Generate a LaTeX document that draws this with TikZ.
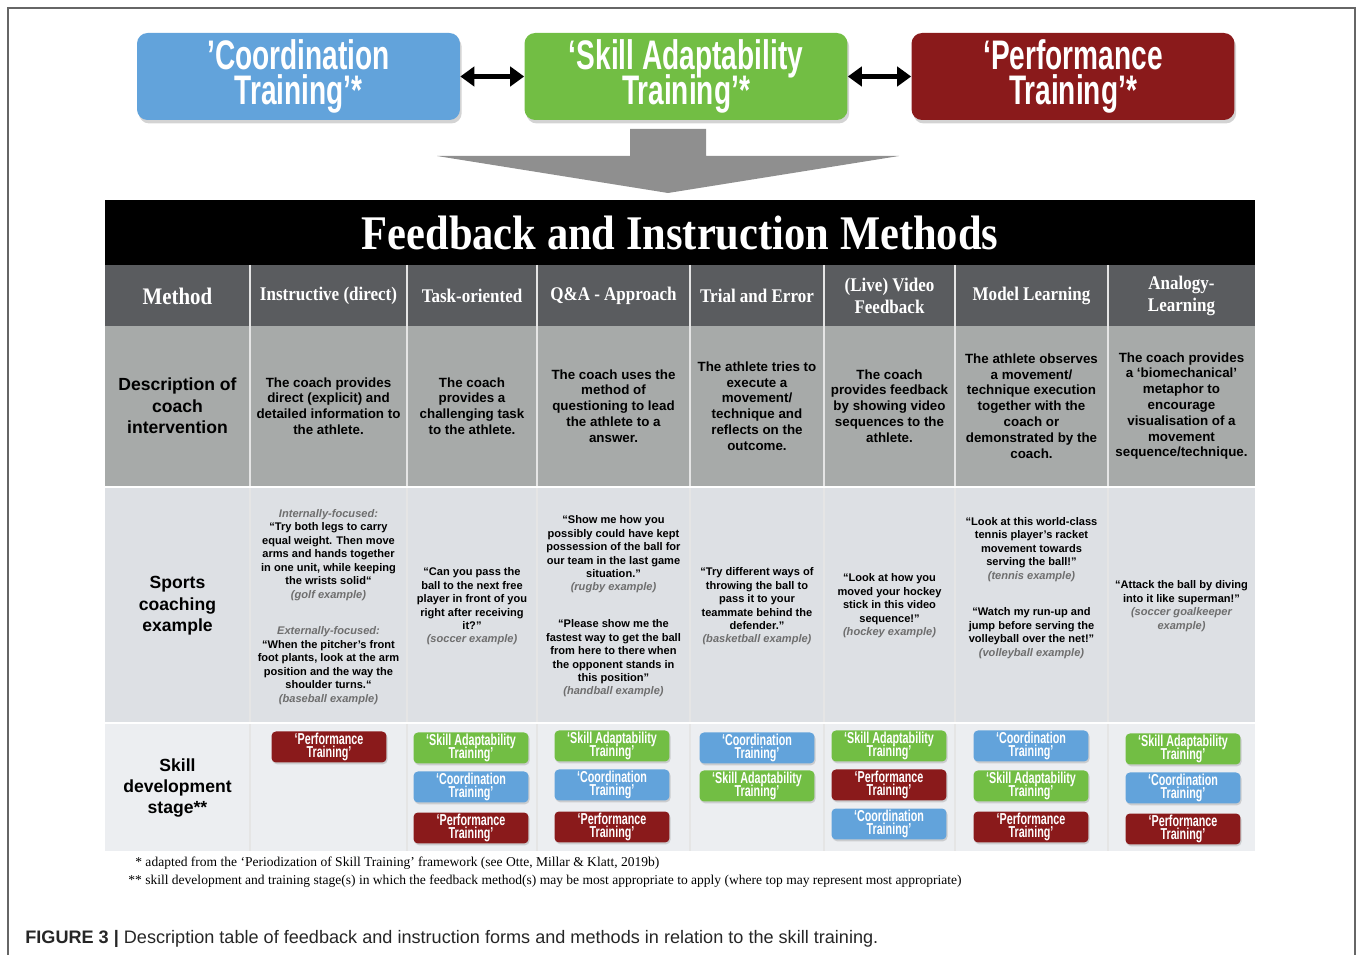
\documentclass[tikz,border=0pt]{standalone}
\usepackage{fontspec}
\setmainfont{Liberation Sans}
\newfontfamily\headfont[FakeStretch=0.88]{Liberation Serif}
\newfontfamily\notefont{Liberation Serif}
\newfontfamily\condfont[FakeStretch=0.68]{Liberation Sans}
\usetikzlibrary{arrows.meta,shadows}

\definecolor{ctblue}{HTML}{62A3DB}
\definecolor{sagreen}{HTML}{72BE44}
\definecolor{ptred}{HTML}{8A1A1B}
\definecolor{headgray}{HTML}{5A5C5F}
\definecolor{descgray}{HTML}{A7AAA9}
\definecolor{exgray}{HTML}{DDE0E4}
\definecolor{stagegray}{HTML}{ECEEF1}
\definecolor{notegray}{HTML}{6E6E6E}
\definecolor{arrowgray}{HTML}{8F8F8F}
\definecolor{framegray}{HTML}{666666}

\newcommand{\exlabel}[1]{{\itshape\color{notegray}#1}}
\newcommand{\tightlines}{\setlength{\lineskiplimit}{-20pt}}
\newcommand{\cttxt}{‘Coordination\\Training’}
\newcommand{\satxt}{‘Skill Adaptability\\Training’}
\newcommand{\pttxt}{‘Performance\\Training’}

\tikzset{
  bigbox/.style={minimum width=6.46cm, minimum height=1.74cm, rounded corners=6pt, inner sep=0pt,
    text=white, align=center, font=\condfont\bfseries\fontsize{23.5}{19.8}\selectfont\tightlines,
    drop shadow={opacity=0.35, shadow xshift=1pt, shadow yshift=-2pt}},
  smallbox/.style={minimum width=2.3cm, minimum height=0.62cm, rounded corners=2.5pt, inner sep=0pt,
    text=white, align=center, font=\condfont\bfseries\fontsize{9}{6.9}\selectfont\tightlines,
    drop shadow={opacity=0.3, shadow xshift=0.6pt, shadow yshift=-1pt}},
  coordbox/.style={fill=ctblue},
  adaptbox/.style={fill=sagreen},
  perfbox/.style={fill=ptred},
  dblarrow/.style={line width=2.4pt, {Triangle[length=8pt,width=11pt]}-{Triangle[length=8pt,width=11pt]}},
  headtext/.style={text=white, align=center, inner sep=0pt, font=\headfont\bfseries\fontsize{11}{12.5}\selectfont},
  rowlabel/.style={align=center, inner sep=0pt, font=\bfseries\fontsize{10}{12.2}\selectfont},
  desctext/.style={align=center, inner sep=0pt, font=\bfseries\fontsize{7.6}{9}\selectfont},
  extext/.style={align=center, inner sep=0pt, font=\bfseries\fontsize{6.3}{7.65}\selectfont},
  notetext/.style={anchor=base west, inner sep=0pt, font=\notefont\fontsize{7.7}{9}\selectfont}
}

\begin{document}
\begin{tikzpicture}[x=0.02cm, y=0.02cm]
\useasboundingbox (0,0) rectangle (1357,-955);
\draw[framegray, line width=1pt] (8,-955) -- (8,-8) -- (1355,-8) -- (1355,-955);

\node[bigbox, coordbox] (coord) at (298.5,-76.5) {’Coordination\\Training’*};
\node[bigbox, adaptbox] (adapt) at (686,-76.5) {‘Skill Adaptability\\Training’*};
\node[bigbox, perfbox] (perf) at (1073,-76.5) {‘Performance\\Training’*};
\draw[dblarrow] (coord.east) -- (adapt.west);
\draw[dblarrow] (adapt.east) -- (perf.west);

\fill[arrowgray] (630,-129) -- (706,-129) -- (706,-156) -- (899,-156) -- (668,-193) -- (437,-156) -- (630,-156) -- cycle;

\fill[black] (105,-200) rectangle (1255,-265);
\fill[headgray] (105,-265) rectangle (1255,-326);
\fill[descgray] (105,-326) rectangle (1255,-487);
\fill[exgray] (105,-487) rectangle (1255,-723);
\fill[stagegray] (105,-723) rectangle (1255,-851);
\foreach \x in {250,407,537,690,824,955,1108}
  \draw[white!80!gray, line width=0.7pt] (\x,-265) -- (\x,-851);
\draw[white, line width=0.7pt] (105,-487) -- (1255,-487);
\draw[white, line width=0.7pt] (105,-723) -- (1255,-723);

\node[headtext, font=\headfont\bfseries\fontsize{27.5}{30}\selectfont] (title) at (680,-233) {Feedback and Instruction Methods};

\node[headtext, font=\headfont\bfseries\fontsize{13.5}{14}\selectfont] (hmethod) at (177.5,-296) {Method};
\node[headtext] (h1) at (328.5,-296) {Instructive (direct)};
\node[headtext] (h2) at (472,-296) {Task-oriented};
\node[headtext] (h3) at (613.5,-296) {Q\&A - Approach};
\node[headtext] (h4) at (757,-296) {Trial and Error};
\node[headtext] (h5) at (889.5,-296) {(Live) Video\\Feedback};
\node[headtext] (h6) at (1031.5,-296) {Model Learning};
\node[headtext] (h7) at (1181.5,-296) {Analogy-\\Learning};

\node[rowlabel] (ldesc) at (177.5,-406) {Description of\\coach\\intervention};
\node[desctext] (desc1) at (328.5,-406) {The coach provides\\direct (explicit) and\\detailed information to\\the athlete.};
\node[desctext] (desc2) at (472,-406) {The coach\\provides a\\challenging task\\to the athlete.};
\node[desctext] (desc3) at (613.5,-406) {The coach uses the\\method of\\questioning to lead\\the athlete to a\\answer.};
\node[desctext] (desc4) at (757,-406) {The athlete tries to\\execute a\\movement/\\technique and\\reflects on the\\outcome.};
\node[desctext] (desc5) at (889.5,-406) {The coach\\provides feedback\\by showing video\\sequences to the\\athlete.};
\node[desctext] (desc6) at (1031.5,-406) {The athlete observes\\a movement/\\technique execution\\together with the\\coach or\\demonstrated by the\\coach.};
\node[desctext] (desc7) at (1181.5,-406) {The coach provides\\a ‘biomechanical’\\metaphor to\\encourage\\visualisation of a\\movement\\sequence/technique.};

\node[rowlabel] (lex) at (177.5,-606) {Sports\\coaching\\example};
\node[extext] (ex1) at (328.5,-607) {\exlabel{Internally-focused:}\\“Try both legs to carry\\equal weight. Then move\\arms and hands together\\in one unit, while keeping\\the wrists solid“\\\exlabel{(golf example)}\\[13.3pt]\exlabel{Externally-focused:}\\“When the pitcher’s front\\foot plants, look at the arm\\position and the way the\\shoulder turns.“\\\exlabel{(baseball example)}};
\node[extext] (ex2) at (472,-606.5) {“Can you pass the\\ball to the next free\\player in front of you\\right after receiving\\it?”\\\exlabel{(soccer example)}};
\node[extext] (ex3) at (613.5,-606.5) {“Show me how you\\possibly could have kept\\possession of the ball for\\our team in the last game\\situation.”\\\exlabel{(rugby example)}\\[13.3pt]“Please show me the\\fastest way to get the ball\\from here to there when\\the opponent stands in\\this position”\\\exlabel{(handball example)}};
\node[extext] (ex4) at (757,-606.5) {“Try different ways of\\throwing the ball to\\pass it to your\\teammate behind the\\defender.”\\\exlabel{(basketball example)}};
\node[extext] (ex5) at (889.5,-606) {“Look at how you\\moved your hockey\\stick in this video\\sequence!”\\\exlabel{(hockey example)}};
\node[extext] (ex6) at (1031.5,-588) {“Look at this world-class\\tennis player’s racket\\movement towards\\serving the ball!”\\\exlabel{(tennis example)}\\[13.3pt]“Watch my run-up and\\jump before serving the\\volleyball over the net!”\\\exlabel{(volleyball example)}};
\node[extext] (ex7) at (1181.5,-606) {“Attack the ball by diving\\into it like superman!”\\\exlabel{(soccer goalkeeper}\\\exlabel{example)}};

\node[rowlabel] (lstage) at (177.5,-788) {Skill\\development\\stage**};
\node[smallbox, perfbox] (s1a) at (329,-747) {\pttxt};
\node[smallbox, adaptbox] (s2a) at (471,-748) {\satxt};
\node[smallbox, coordbox] (s2b) at (471,-787) {\cttxt};
\node[smallbox, perfbox] (s2c) at (471,-828) {\pttxt};
\node[smallbox, adaptbox] (s3a) at (612,-746) {\satxt};
\node[smallbox, coordbox] (s3b) at (612,-785) {\cttxt};
\node[smallbox, perfbox] (s3c) at (612,-827) {\pttxt};
\node[smallbox, coordbox] (s4a) at (757,-748) {\cttxt};
\node[smallbox, adaptbox] (s4b) at (757,-786) {\satxt};
\node[smallbox, adaptbox] (s5a) at (889,-746) {\satxt};
\node[smallbox, perfbox] (s5b) at (889,-785) {\pttxt};
\node[smallbox, coordbox] (s5c) at (889,-824) {\cttxt};
\node[smallbox, coordbox] (s6a) at (1031,-746) {\cttxt};
\node[smallbox, adaptbox] (s6b) at (1031,-786) {\satxt};
\node[smallbox, perfbox] (s6c) at (1031,-827) {\pttxt};
\node[smallbox, adaptbox] (s7a) at (1183,-749) {\satxt};
\node[smallbox, coordbox] (s7b) at (1183,-788) {\cttxt};
\node[smallbox, perfbox] (s7c) at (1183,-829) {\pttxt};

\node[notetext] (note1) at (135,-867) {* adapted from the ‘Periodization of Skill Training’ framework (see Otte, Millar \& Klatt, 2019b)};
\node[notetext] (note2) at (128,-885) {** skill development and training stage(s) in which the feedback method(s) may be most appropriate to apply (where top may represent most appropriate)};

\node[anchor=base west, inner sep=0pt, text=black!85, font=\fontsize{10.3}{12}\selectfont] (caption) at (25,-944) {\textbf{FIGURE 3 |} Description table of feedback and instruction forms and methods in relation to the skill training.};
\end{tikzpicture}
\end{document}
